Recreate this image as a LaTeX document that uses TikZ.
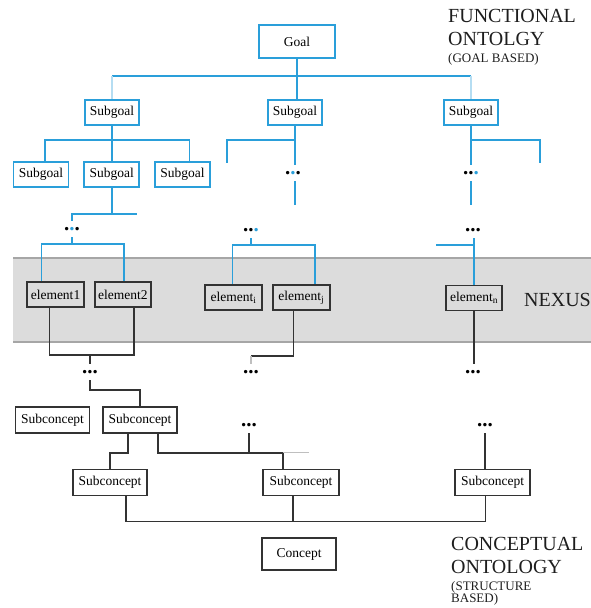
\documentclass[tikz,border=0pt]{standalone}
\usepackage{fontspec}
\setmainfont{Liberation Serif}
\usetikzlibrary{positioning}
\definecolor{goalblue}{HTML}{2A9FDA}
\definecolor{nexusgray}{HTML}{DCDCDC}
\definecolor{bandline}{HTML}{A6A6A6}
\definecolor{darkgray}{HTML}{333333}
\definecolor{titlegray}{HTML}{1E1E1E}
\newcommand{\dotrow}[3]{\textcolor{#1}{.}\textcolor{#2}{.}\textcolor{#3}{.}}

\begin{document}
\begin{tikzpicture}[
  x=1pt, y=-1pt,
  node distance=9pt and 14pt,
  goalbox/.style={draw=goalblue, line width=1.7pt, fill=white, minimum width=54pt,
                  minimum height=25pt, inner sep=1pt, font=\fontsize{13.5}{15}\selectfont},
  elembox/.style={draw=darkgray, line width=1.8pt, minimum width=56pt,
                  minimum height=25pt, inner sep=1pt, font=\fontsize{13.5}{15}\selectfont},
  conbox/.style={draw=darkgray, line width=1.5pt, fill=white, minimum width=74pt,
                 minimum height=26pt, inner sep=1pt, font=\fontsize{13.5}{15}\selectfont},
  bline/.style={goalblue, line width=1.7pt},
  paleblue/.style={goalblue!35, line width=1.2pt},
  kline/.style={darkgray, line width=1.5pt},
  paleblack/.style={black!25, line width=1.2pt},
  dotsnode/.style={inner sep=0pt, minimum height=16pt,
                   font=\bfseries\fontsize{21}{21}\selectfont},
  title/.style={anchor=base west, inner sep=0pt, text=titlegray,
                font=\fontsize{20}{22}\selectfont},
  subtitle/.style={anchor=base west, inner sep=0pt, text=titlegray,
                   font=\fontsize{13}{14}\selectfont},
]
  \useasboundingbox (0,0) rectangle (590,608);

  % Nexus band
  \fill[nexusgray] (13,258) rectangle (600,342);
  \draw[bandline, line width=1.3pt] (13,258) -- (600,258) (13,342) -- (600,342);

  % Goal and first subgoals
  \node[goalbox, minimum width=76pt, minimum height=33pt] (goal) at (297,41.5) {Goal};
  \node[goalbox] (sgA) at (112,112.5) {Subgoal};
  \node[goalbox] (sgB) at (295,112.5) {Subgoal};
  \node[goalbox] (sgC) at (471,112.5) {Subgoal};
  \coordinate (busTop) at (0,76);
  \draw[bline] (sgA.north |- busTop) -- (sgC.north |- busTop);
  \draw[bline] (goal.south) -- (goal.south |- sgB.north);
  \draw[paleblue] (sgA.north |- busTop) -- (sgA.north);
  \draw[paleblue] (sgC.north |- busTop) -- (sgC.north);

  % Second level, left
  \node[goalbox, minimum width=55pt] (sgAa) at (41,174.5) {Subgoal};
  \node[goalbox, minimum width=55pt, right=14pt of sgAa] (sgAb) {Subgoal};
  \node[goalbox, minimum width=55pt, right=14pt of sgAb] (sgAc) {Subgoal};
  \draw[bline] (sgA.south) -- ++(0,14) coordinate (jA);
  \draw[bline] ([xshift=4pt]sgAa.north) |- (jA) -| ([xshift=7pt]sgAc.north);
  \draw[bline] (jA) -- (jA |- sgAb.north);

  % Second level, middle
  \node[dotsnode] (dotsB2) at (293,173) {\dotrow{black}{goalblue}{black}};
  \path (sgB.south) ++(0,14) coordinate (jB);
  \draw[bline] (sgB.south) -- (sgB.south |- dotsB2.north);
  \draw[bline] (jB) -- ++(-68,0) -- ++(0,23);
  \draw[bline] (sgB.south |- dotsB2.south) -- ++(0,24);

  % Second level, right
  \node[dotsnode] (dotsC2) at (471,173) {\dotrow{black}{black}{goalblue}};
  \path (sgC.south) ++(0,14) coordinate (jC);
  \draw[bline] (sgC.south) -- (sgC.south |- dotsC2.north);
  \draw[bline] (jC) -- ++(69,0) -- ++(0,23);
  \draw[bline] (dotsC2.south) -- ++(0,24);

  % Third level
  \node[dotsnode] (dotsA3) at (72,229) {\dotrow{black}{goalblue}{black}};
  \node[dotsnode] (dotsB3) at (251,230) {\dotrow{black}{black}{goalblue}};
  \node[dotsnode] (dotsC3) at (473,230) {\dotrow{black}{black}{black}};
  \draw[bline] (sgAb.south) -- ++(0,26) coordinate (jAb);
  \draw[bline] (dotsA3.north) |- (jAb) -- ++(25,0);

  % Nexus elements
  \node[elembox, minimum width=57pt] (el1) at (55.5,294.5) {element1};
  \node[elembox, right=9pt of el1] (el2) {element2};
  \node[elembox, minimum width=57pt] (eli) at (233.5,297.5) {element\textsubscript{i}};
  \node[elembox, minimum width=57pt, right=9pt of eli] (elj) {element\textsubscript{j}};
  \node[elembox] (eln) at (474,298) {element\textsubscript{n}};
  \node[title] (nexus) at (524,306) {NEXUS};

  \draw[bline] (dotsA3.south) -- ++(0,7) coordinate (jA3);
  \draw[bline] ([xshift=-14pt]el1.north) |- (jA3) -| ([xshift=1pt]el2.north);
  \draw[bline] (dotsB3.south) -- ++(0,7) coordinate (jB3);
  \draw[bline] ([xshift=-1pt]eli.north) |- (jB3) -| ([xshift=14pt]elj.north);
  \draw[bline] (eln.north |- dotsC3.south) -- (eln.north);
  \draw[bline] (eln.north |- dotsC3.south) ++(0,7) -- ++(-38,0);

  % Below the nexus
  \node[dotsnode] (dotsK1) at (90,372) {\dotrow{black}{black}{black}};
  \node[dotsnode] (dotsK2) at (251,372) {\dotrow{black}{black}{black}};
  \node[dotsnode] (dotsK3) at (473,372) {\dotrow{black}{black}{black}};
  \draw[kline] ([xshift=-6pt]el1.south) -- ++(0,47) coordinate (jK1) -| ([xshift=11pt]el2.south);
  \draw[kline] (jK1 -| dotsK1.north) -- (dotsK1.north);
  \draw[kline] ([xshift=-8pt]elj.south) -- ++(0,45) coordinate (jK2) -- (jK2 -| dotsK2.north);
  \draw[paleblack] (jK2 -| dotsK2.north) -- (dotsK2.north);
  \draw[kline] (eln.south) -- (eln.south |- dotsK3.north);

  % Subconcepts
  \node[conbox] (sc1) at (52.5,420) {Subconcept};
  \node[conbox, right=12pt of sc1] (sc2) {Subconcept};
  \draw[kline] (dotsK1.south) -- ++(0,10) -| (sc2.north);

  \node[dotsnode] (dotsK4) at (249,425) {\dotrow{black}{black}{black}};
  \node[dotsnode] (dotsK5) at (485,425) {\dotrow{black}{black}{black}};
  \node[conbox] (sc3) at (110,482.5) {Subconcept};
  \node[conbox, minimum width=76pt] (sc4) at (301,482.5) {Subconcept};
  \node[conbox, minimum width=75pt] (sc5) at (492.5,482.5) {Subconcept};
  \draw[kline] ([xshift=-12pt]sc2.south) -- ++(0,19) -| (sc3.north);
  \draw[kline] ([xshift=18pt]sc2.south) -- ++(0,19) coordinate (jS) -| ([xshift=-18pt]sc4.north);
  \draw[paleblack] ([xshift=-18pt]sc4.north |- jS) -- ++(26,0);
  \draw[kline] (dotsK4.south) -- (dotsK4.south |- jS);
  \draw[kline] (dotsK5.south) -- (dotsK5.south |- sc5.north);
  \draw[kline] ([xshift=16pt]sc3.south) -- ++(0,25) coordinate (jBot) -| ([xshift=-7pt]sc5.south);
  \draw[kline] ([xshift=-8pt]sc4.south) -- ([xshift=-8pt]sc4.south |- jBot);

  % Concept
  \node[conbox, minimum height=32pt] (concept) at (299,554) {Concept};

  % Titles
  \node[title] (fnTitle) at (448,22) {FUNCTIONAL};
  \node[title] (fnTitle2) at ([yshift=-23pt]fnTitle.base west) {ONTOLGY};
  \node[subtitle] (fnSub) at ([yshift=-17pt]fnTitle2.base west) {(GOAL BASED)};
  \node[title] (cnTitle) at (451,550) {CONCEPTUAL};
  \node[title] (cnTitle2) at ([yshift=-23pt]cnTitle.base west) {ONTOLOGY};
  \node[subtitle] (cnSub) at ([yshift=-17pt]cnTitle2.base west) {(STRUCTURE};
  \node[subtitle] (cnSub2) at ([yshift=-12pt]cnSub.base west) {BASED)};
\end{tikzpicture}
\end{document}
